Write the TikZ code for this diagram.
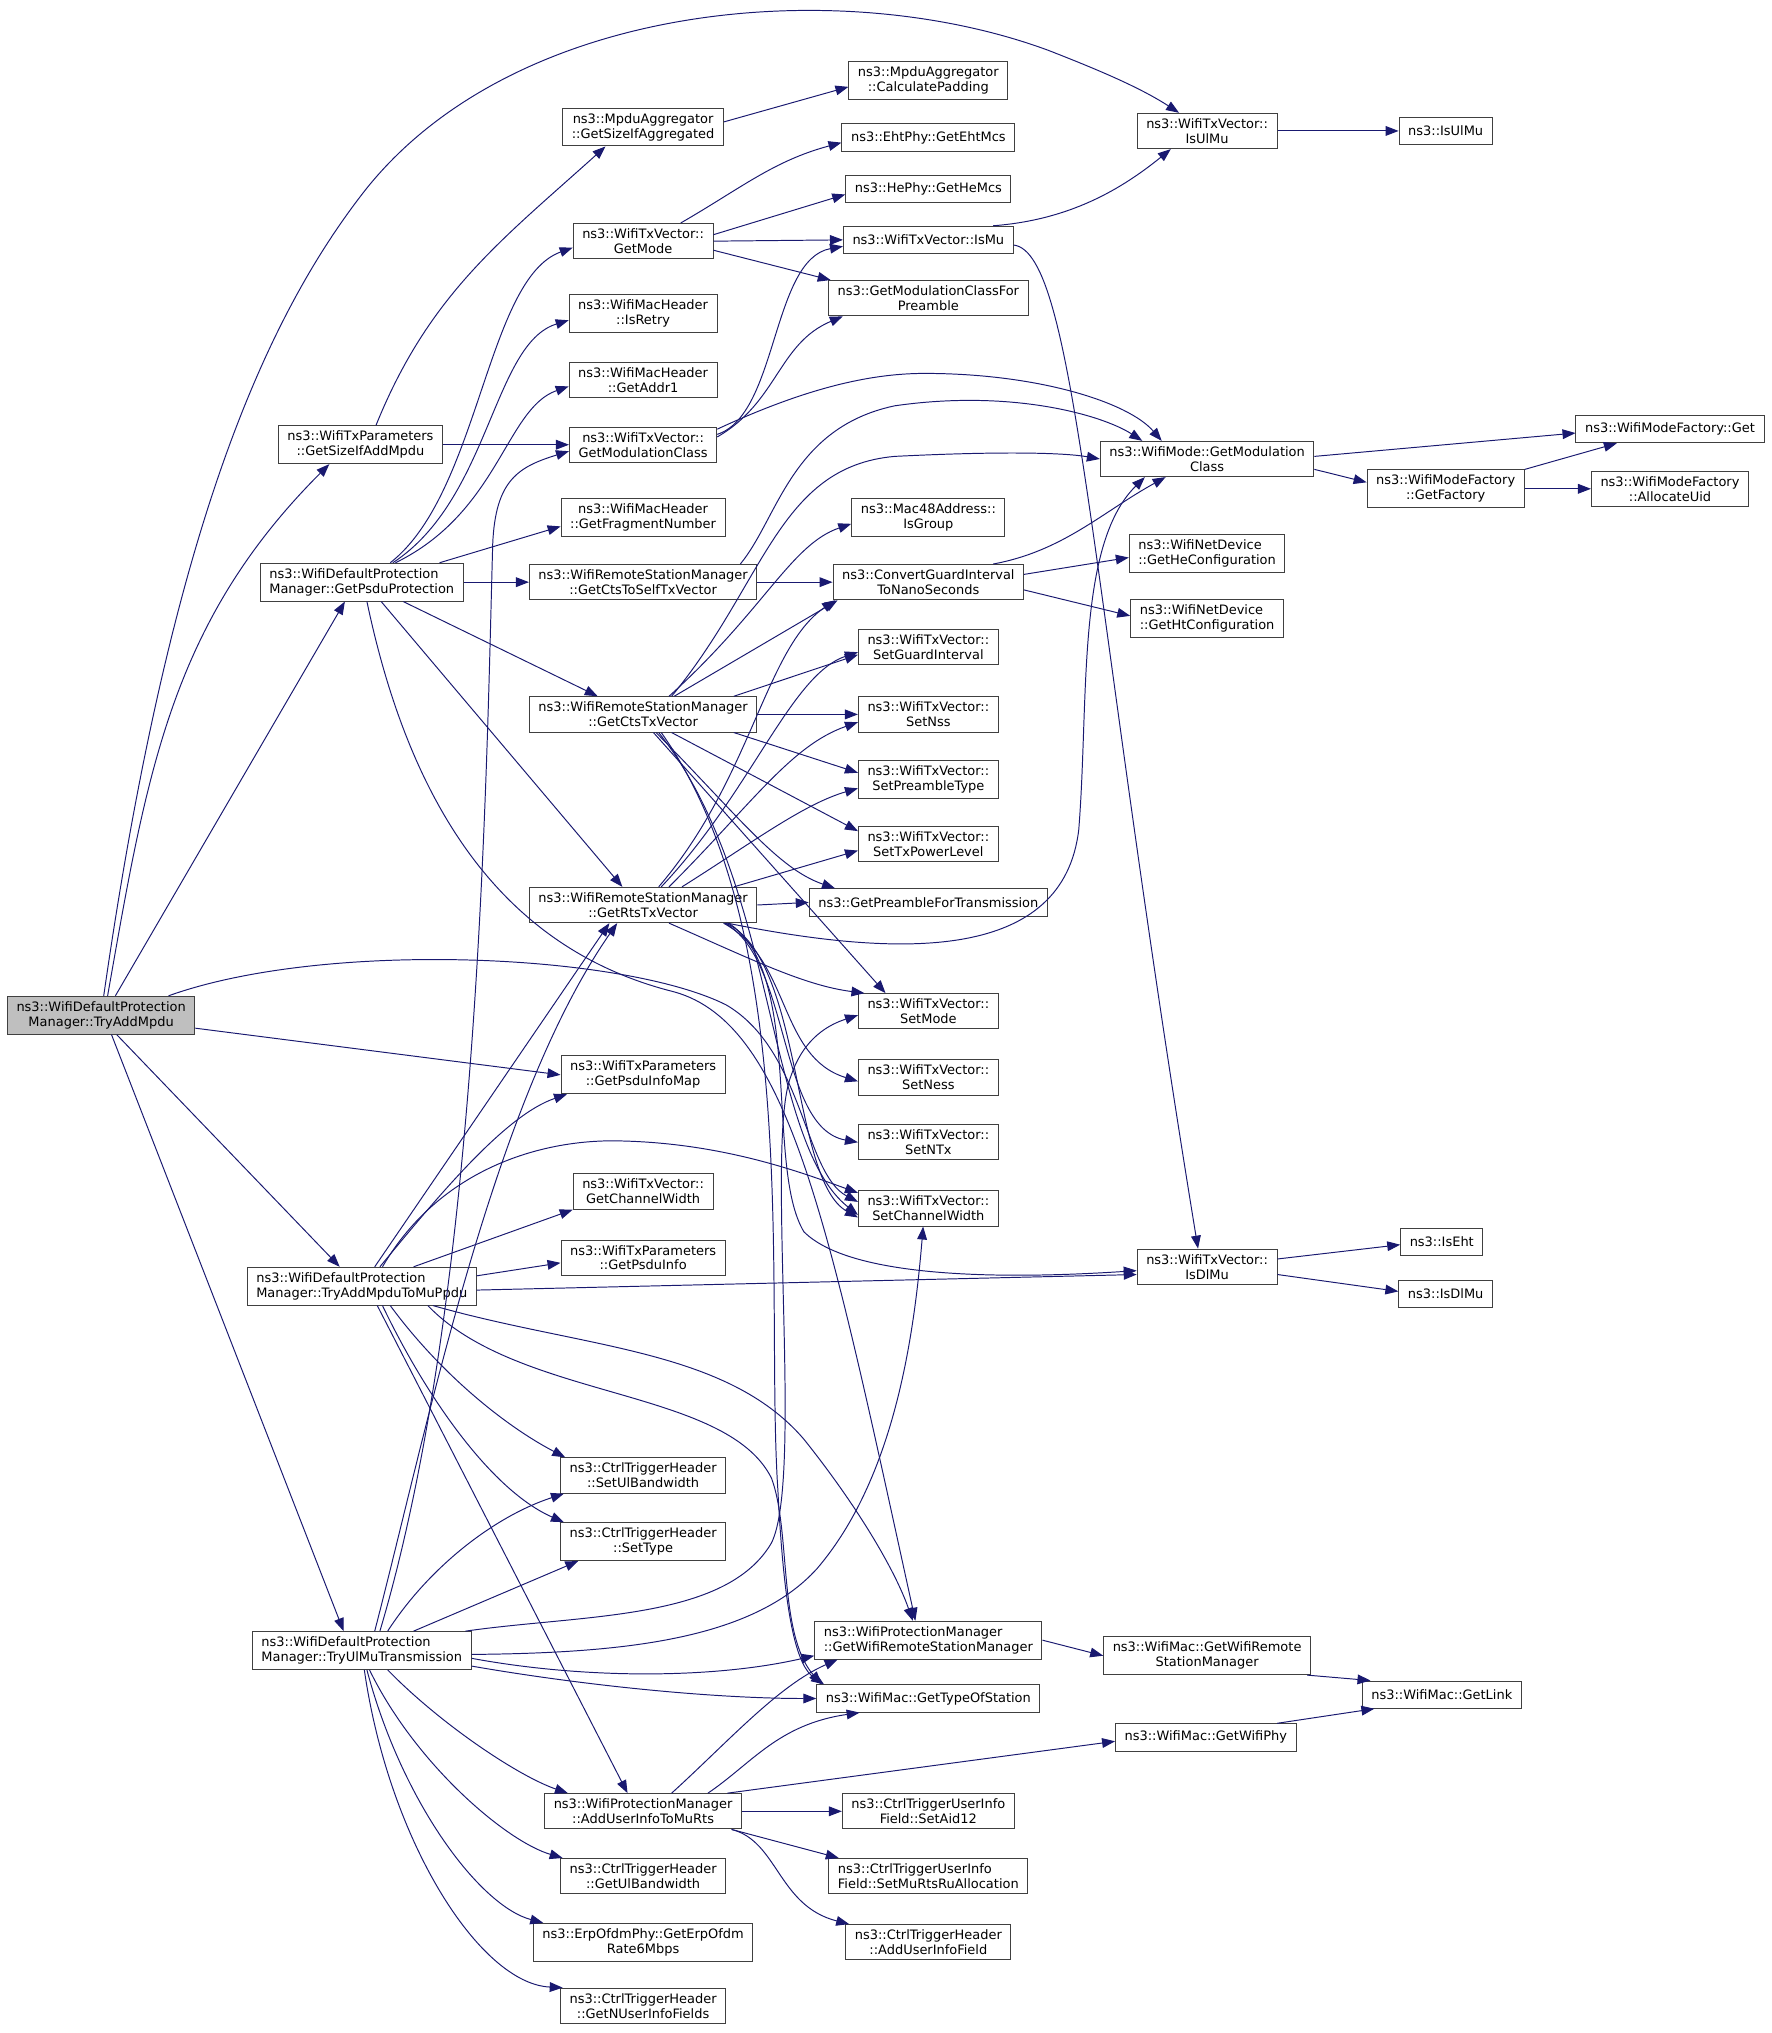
\documentclass[tikz,border=0pt]{standalone}
\usepackage{fontspec}
\setmainfont{DejaVu Sans}
\usepackage{tikz}
\usetikzlibrary{arrows.meta}

\definecolor{edgeblue}{HTML}{191970}
\definecolor{rootgray}{HTML}{BFBFBF}

\tikzset{
  fn/.style={draw=black!75, fill=white, line width=0.75pt, inner xsep=7pt, inner ysep=4pt,
    minimum height=21pt, align=center, font=\fontsize{10}{11.5}\selectfont},
  lft/.style={align=left},
  root/.style={fn, fill=rootgray},
  call/.style={draw=edgeblue, line width=0.75pt, -{Triangle[length=10pt,width=7.5pt]}, fill=none},
}

\begin{document}
\begin{tikzpicture}[x=1pt,y=1pt]
  % page frame
  \fill[white] (0,0) rectangle (1366,-1568);
  \useasboundingbox (0,0) rectangle (1366,-1568);

  % Caller
  \node[root] (root) at (78,-783) {ns3::WifiDefaultProtection\\Manager::TryAddMpdu};

  % First level
  \node[fn] (sizeAdd) at (278,-343) {ns3::WifiTxParameters\\::GetSizeIfAddMpdu};
  \node[fn,lft] (psduProt) at (279,-449) {ns3::WifiDefaultProtection\\Manager::GetPsduProtection};
  \node[fn,lft] (toMuPpdu) at (279,-992) {ns3::WifiDefaultProtection\\Manager::TryAddMpduToMuPpdu};
  \node[fn,lft] (ulMuTx) at (279,-1273) {ns3::WifiDefaultProtection\\Manager::TryUlMuTransmission};

  % Second column
  \node[fn] (sizeAggr) at (496,-98) {ns3::MpduAggregator\\::GetSizeIfAggregated};
  \node[fn] (getMode) at (496,-186) {ns3::WifiTxVector::\\GetMode};
  \node[fn] (isRetry) at (496,-242) {ns3::WifiMacHeader\\::IsRetry};
  \node[fn] (getAddr1) at (496,-293) {ns3::WifiMacHeader\\::GetAddr1};
  \node[fn] (modClassTx) at (496,-343) {ns3::WifiTxVector::\\GetModulationClass};
  \node[fn] (fragNum) at (496,-399) {ns3::WifiMacHeader\\::GetFragmentNumber};
  \node[fn] (ctsSelf) at (496,-449) {ns3::WifiRemoteStationManager\\::GetCtsToSelfTxVector};
  \node[fn] (ctsTx) at (496,-551) {ns3::WifiRemoteStationManager\\::GetCtsTxVector};
  \node[fn] (rtsTx) at (496,-698) {ns3::WifiRemoteStationManager\\::GetRtsTxVector};
  \node[fn] (psduInfoMap) at (496,-829) {ns3::WifiTxParameters\\::GetPsduInfoMap};
  \node[fn] (chanWidth) at (496,-919) {ns3::WifiTxVector::\\GetChannelWidth};
  \node[fn] (psduInfo) at (496,-970) {ns3::WifiTxParameters\\::GetPsduInfo};
  \node[fn] (setUlBw) at (496,-1138) {ns3::CtrlTriggerHeader\\::SetUlBandwidth};
  \node[fn] (setType) at (496,-1189) {ns3::CtrlTriggerHeader\\::SetType};
  \node[fn] (addUserInfo) at (496,-1397) {ns3::WifiProtectionManager\\::AddUserInfoToMuRts};
  \node[fn] (getUlBw) at (496,-1447) {ns3::CtrlTriggerHeader\\::GetUlBandwidth};
  \node[fn] (erp6) at (496,-1498) {ns3::ErpOfdmPhy::GetErpOfdm\\Rate6Mbps};
  \node[fn] (nUserInfo) at (496,-1547) {ns3::CtrlTriggerHeader\\::GetNUserInfoFields};

  % Third column
  \node[fn] (calcPad) at (716,-62) {ns3::MpduAggregator\\::CalculatePadding};
  \node[fn] (ehtMcs) at (716,-106) {ns3::EhtPhy::GetEhtMcs};
  \node[fn] (heMcs) at (716,-146) {ns3::HePhy::GetHeMcs};
  \node[fn] (isMu) at (716,-185) {ns3::WifiTxVector::IsMu};
  \node[fn] (modClassPre) at (716,-230) {ns3::GetModulationClassFor\\Preamble};
  \node[fn] (isGroup) at (716,-399) {ns3::Mac48Address::\\IsGroup};
  \node[fn] (convGI) at (716,-449) {ns3::ConvertGuardInterval\\ToNanoSeconds};
  \node[fn] (setGI) at (716,-499) {ns3::WifiTxVector::\\SetGuardInterval};
  \node[fn] (setNss) at (716,-551) {ns3::WifiTxVector::\\SetNss};
  \node[fn] (setPre) at (716,-601) {ns3::WifiTxVector::\\SetPreambleType};
  \node[fn] (setTxPow) at (716,-651) {ns3::WifiTxVector::\\SetTxPowerLevel};
  \node[fn] (preTx) at (716,-696) {ns3::GetPreambleForTransmission};
  \node[fn] (setMode) at (716,-780) {ns3::WifiTxVector::\\SetMode};
  \node[fn] (setNess) at (716,-831) {ns3::WifiTxVector::\\SetNess};
  \node[fn] (setNTx) at (716,-881) {ns3::WifiTxVector::\\SetNTx};
  \node[fn] (setChW) at (716,-932) {ns3::WifiTxVector::\\SetChannelWidth};
  \node[fn,lft] (wpmRsm) at (716,-1265) {ns3::WifiProtectionManager\\::GetWifiRemoteStationManager};
  \node[fn] (typeSta) at (716,-1310) {ns3::WifiMac::GetTypeOfStation};
  \node[fn] (setAid) at (716,-1397) {ns3::CtrlTriggerUserInfo\\Field::SetAid12};
  \node[fn,lft] (setRu) at (716,-1447) {ns3::CtrlTriggerUserInfo\\Field::SetMuRtsRuAllocation};
  \node[fn] (addUif) at (716,-1498) {ns3::CtrlTriggerHeader\\::AddUserInfoField};

  % Fourth column
  \node[fn] (isUlMuTx) at (931,-101) {ns3::WifiTxVector::\\IsUlMu};
  \node[fn] (wmGMC) at (931,-354) {ns3::WifiMode::GetModulation\\Class};
  \node[fn,lft] (heConf) at (931,-427) {ns3::WifiNetDevice\\::GetHeConfiguration};
  \node[fn,lft] (htConf) at (931,-477) {ns3::WifiNetDevice\\::GetHtConfiguration};
  \node[fn] (isDlMuTx) at (931,-977) {ns3::WifiTxVector::\\IsDlMu};
  \node[fn] (macRsm) at (931,-1277) {ns3::WifiMac::GetWifiRemote\\StationManager};
  \node[fn] (wifiPhy) at (930,-1340) {ns3::WifiMac::GetWifiPhy};

  % Fifth and sixth columns
  \node[fn] (isUlMu) at (1115,-101) {ns3::IsUlMu};
  \node[fn] (getFactory) at (1115,-377) {ns3::WifiModeFactory\\::GetFactory};
  \node[fn] (isEht) at (1112,-958) {ns3::IsEht};
  \node[fn] (isDlMu) at (1115,-998) {ns3::IsDlMu};
  \node[fn] (getLink) at (1112,-1307) {ns3::WifiMac::GetLink};
  \node[fn] (wmfGet) at (1288,-331) {ns3::WifiModeFactory::Get};
  \node[fn] (allocUid) at (1288,-377) {ns3::WifiModeFactory\\::AllocateUid};

  % Calls from TryAddMpdu
  \draw[call] ([xshift=2pt]root.north) .. controls (130,-420) and (200,-250) .. (283,-145)
    .. controls (400,0) and (650,20) .. (809,-39)
    .. controls (850,-55) and (880,-68) .. (isUlMuTx);
  \draw[call] ([xshift=5pt]root.north) to[out=80,in=225] ([xshift=-24pt]sizeAdd.south);
  \draw[call] ([xshift=11pt]root.north) -- ([xshift=-13pt]psduProt.south);
  \draw[call] ([xshift=52pt]root.north) .. controls (250,-725) and (480,-735) .. (560,-775)
    .. controls (620,-810) and (620,-905) .. ([yshift=5pt]setChW.west);
  \draw[call] ([yshift=-10pt]root.east) -- (psduInfoMap.west);
  \draw[call] ([xshift=12pt]root.south) -- ([xshift=-17pt]toMuPpdu.north);
  \draw[call] ([xshift=8pt]root.south) -- ([xshift=-14pt]ulMuTx.north);

  % GetSizeIfAddMpdu
  \draw[call] ([xshift=12pt]sizeAdd.north) to[out=68,in=222] ([xshift=-29pt]sizeAggr.south);
  \draw[call] (sizeAdd.east) -- (modClassTx.west);
  \draw[call] ([yshift=4pt]sizeAggr.east) -- ([yshift=-5pt]calcPad.west);

  % GetPsduProtection
  \draw[call] ([xshift=22pt]psduProt.north) .. controls (370,-380) and (375,-215) .. ([yshift=-5pt]getMode.west);
  \draw[call] ([xshift=24pt]psduProt.north) .. controls (378,-385) and (380,-265) .. ([yshift=-5pt]isRetry.west);
  \draw[call] ([xshift=26pt]psduProt.north) .. controls (385,-395) and (390,-315) .. ([yshift=-5pt]getAddr1.west);
  \draw[call] ([xshift=60pt]psduProt.north) -- ([yshift=-7pt]fragNum.west);
  \draw[call] (psduProt.east) -- (ctsSelf.west);
  \draw[call] ([xshift=32pt]psduProt.south) -- ([xshift=-35pt]ctsTx.north);
  \draw[call] ([xshift=15pt]psduProt.south) -- ([xshift=-16pt]rtsTx.north);
  \draw[call] ([xshift=4pt]psduProt.south) .. controls (320,-640) and (400,-735) .. (520,-765)
    .. controls (610,-790) and (640,-950) .. ([xshift=-10pt]wpmRsm.north);

  % GetMode and GetModulationClass
  \draw[call] ([xshift=29pt]getMode.north) to[out=30,in=195] ([yshift=-4pt]ehtMcs.west);
  \draw[call] ([yshift=5pt]getMode.east) -- ([yshift=-4pt]heMcs.west);
  \draw[call] (getMode.east) -- (isMu.west);
  \draw[call] ([yshift=-7pt]getMode.east) -- ([xshift=2pt]modClassPre.north west);
  \draw[call] ([yshift=8pt]modClassTx.east) .. controls (600,-320) and (595,-200) .. ([yshift=-5pt]isMu.west);
  \draw[call] ([yshift=6pt]modClassTx.east) .. controls (600,-310) and (600,-265) .. ([xshift=-66pt]modClassPre.south);
  \draw[call] ([yshift=12pt]modClassTx.east) .. controls (620,-300) and (670,-288) .. (713,-288)
    .. controls (800,-288) and (870,-310) .. ([xshift=-35pt]wmGMC.north);
  \draw[call] ([xshift=50pt]isMu.north) .. controls (820,-170) and (860,-150) .. ([xshift=-28pt]isUlMuTx.south);
  \draw[call] ([yshift=-4pt]isMu.east) .. controls (830,-195) and (840,-450) .. ([xshift=-7pt]isDlMuTx.north);
  \draw[call] (isUlMuTx.east) -- (isUlMu.west);
  \draw[call] ([yshift=6pt]isDlMuTx.east) -- ([yshift=-2pt]isEht.west);
  \draw[call] ([yshift=-6pt]isDlMuTx.east) -- ([yshift=2pt]isDlMu.west);

  % WifiMode and factory
  \draw[call] ([yshift=2pt]wmGMC.east) -- ([yshift=-3pt]wmfGet.west);
  \draw[call] ([yshift=-8pt]wmGMC.east) -- ([yshift=5pt]getFactory.west);
  \draw[call] (getFactory.north east) -- ([xshift=-41pt]wmfGet.south);
  \draw[call] (getFactory.east) -- (allocUid.west);

  % CTS-to-self and guard interval
  \draw[call] (ctsSelf.east) -- (convGI.west);
  \draw[call] ([xshift=75pt]ctsSelf.north) .. controls (600,-400) and (610,-330) .. (690,-313)
    .. controls (780,-300) and (850,-320) .. ([xshift=-50pt]wmGMC.north);
  \draw[call] ([xshift=50pt]convGI.north) .. controls (820,-425) and (850,-395) .. ([xshift=-32pt]wmGMC.south);
  \draw[call] ([yshift=6pt]convGI.east) -- ([yshift=-3pt]heConf.west);
  \draw[call] ([yshift=-6pt]convGI.east) -- ([yshift=2pt]htConf.west);

  % GetCtsTxVector
  \draw[call] ([xshift=22pt]ctsTx.north) .. controls (590,-450) and (600,-360) .. (690,-352)
    .. controls (770,-348) and (820,-349) .. (wmGMC.west);
  \draw[call] ([xshift=20pt]ctsTx.north) .. controls (590,-470) and (610,-420) .. ([yshift=-5pt]isGroup.west);
  \draw[call] ([xshift=24pt]ctsTx.north) -- ([xshift=-70pt]convGI.south);
  \draw[call] ([xshift=70pt]ctsTx.north) -- ([yshift=-6pt]setGI.west);
  \draw[call] (ctsTx.east) -- (setNss.west);
  \draw[call] ([xshift=70pt]ctsTx.south) -- ([yshift=5pt]setPre.west);
  \draw[call] ([xshift=22pt]ctsTx.south) -- ([yshift=10pt]setTxPow.west);
  \draw[call] ([xshift=10pt]ctsTx.south) .. controls (570,-630) and (600,-670) .. ([xshift=-72pt]preTx.north);
  \draw[call] ([xshift=8pt]ctsTx.south) -- ([xshift=-33pt]setMode.north);
  \draw[call] ([xshift=12pt]ctsTx.south) .. controls (600,-680) and (590,-880) .. ([yshift=-5pt]setChW.west);
  \draw[call] ([xshift=14pt]ctsTx.south) .. controls (620,-720) and (590,-1000) .. (600,-1150)
    .. controls (605,-1250) and (615,-1285) .. ([xshift=6pt]typeSta.north west);

  % GetRtsTxVector
  \draw[call] ([xshift=12pt]rtsTx.north) .. controls (580,-600) and (590,-500) .. ([xshift=-72pt]convGI.south);
  \draw[call] ([xshift=14pt]rtsTx.north) .. controls (580,-610) and (610,-520) .. ([yshift=-4pt]setGI.west);
  \draw[call] ([xshift=20pt]rtsTx.north) .. controls (580,-620) and (610,-575) .. ([yshift=-6pt]setNss.west);
  \draw[call] ([xshift=30pt]rtsTx.north) .. controls (580,-650) and (620,-620) .. ([yshift=-7pt]setPre.west);
  \draw[call] ([xshift=70pt]rtsTx.north) -- ([yshift=-5pt]setTxPow.west);
  \draw[call] (rtsTx.east) -- (preTx.west);
  \draw[call] ([xshift=65pt]rtsTx.south) .. controls (700,-740) and (820,-740) .. (832,-640)
    .. controls (840,-540) and (830,-420) .. ([xshift=-48pt]wmGMC.south);
  \draw[call] ([xshift=20pt]rtsTx.south) .. controls (580,-740) and (620,-760) .. ([xshift=5pt]setMode.north west);
  \draw[call] ([xshift=62pt]rtsTx.south) .. controls (610,-740) and (600,-815) .. ([yshift=-3pt]setNess.west);
  \draw[call] ([xshift=63pt]rtsTx.south) .. controls (610,-740) and (600,-870) .. (setNTx.west);
  \draw[call] ([xshift=64pt]rtsTx.south) .. controls (620,-740) and (610,-910) .. ([yshift=-7pt]setChW.west);
  \draw[call] ([xshift=66pt]rtsTx.south) .. controls (620,-750) and (590,-900) .. (620,-950)
    .. controls (660,-990) and (800,-985) .. ([yshift=-3pt]isDlMuTx.west);

  % TryAddMpduToMuPpdu
  \draw[call] ([xshift=10pt]toMuPpdu.north) -- ([xshift=-26pt]rtsTx.south);
  \draw[call] ([xshift=14pt]toMuPpdu.north) .. controls (340,-920) and (390,-860) .. ([xshift=5pt]psduInfoMap.south west);
  \draw[call] ([xshift=16pt]toMuPpdu.north) .. controls (340,-900) and (420,-878) .. (480,-880)
    .. controls (560,-882) and (620,-905) .. ([yshift=12pt]setChW.west);
  \draw[call] ([xshift=40pt]toMuPpdu.north) -- (chanWidth.south west);
  \draw[call] ([yshift=8pt]toMuPpdu.east) -- ([yshift=-4pt]psduInfo.west);
  \draw[call] ([yshift=-3pt]toMuPpdu.east) -- ([yshift=-6pt]isDlMuTx.west);
  \draw[call] ([xshift=22pt]toMuPpdu.south) .. controls (340,-1060) and (390,-1100) .. ([xshift=4pt]setUlBw.north west);
  \draw[call] ([xshift=16pt]toMuPpdu.south) .. controls (330,-1080) and (380,-1150) .. ([xshift=3pt]setType.north west);
  \draw[call] ([xshift=12pt]toMuPpdu.south) -- ([xshift=-12pt]addUserInfo.north);
  \draw[call] ([xshift=55pt]toMuPpdu.south) .. controls (450,-1040) and (560,-1040) .. (620,-1110)
    .. controls (660,-1160) and (690,-1210) .. ([xshift=-12pt]wpmRsm.north);
  \draw[call] ([xshift=51pt]toMuPpdu.south) .. controls (400,-1080) and (560,-1070) .. (595,-1140)
    .. controls (610,-1180) and (600,-1260) .. ([xshift=4pt]typeSta.north west);

  % TryUlMuTransmission
  \draw[call] ([xshift=10pt]ulMuTx.north) .. controls (330,-1100) and (380,-850) .. ([xshift=-20pt]rtsTx.south);
  \draw[call] ([xshift=14pt]ulMuTx.north) .. controls (370,-1000) and (375,-600) .. (380,-420)
    .. controls (382,-370) and (400,-360) .. ([yshift=-5pt]modClassTx.west);
  \draw[call] ([xshift=20pt]ulMuTx.north) .. controls (330,-1210) and (380,-1170) .. ([xshift=3pt]setUlBw.south west);
  \draw[call] ([xshift=40pt]ulMuTx.north) -- ([xshift=-50pt]setType.south);
  \draw[call] ([xshift=80pt]ulMuTx.north) .. controls (450,-1245) and (560,-1250) .. (595,-1190)
    .. controls (620,-1140) and (590,-880) .. (610,-830)
    .. controls (620,-800) and (640,-790) .. ([yshift=-3pt]setMode.west);
  \draw[call] ([yshift=-3pt]ulMuTx.east) .. controls (480,-1275) and (580,-1265) .. (630,-1210)
    .. controls (690,-1140) and (705,-1030) .. ([xshift=-4pt]setChW.south);
  \draw[call] ([yshift=-6pt]ulMuTx.east) .. controls (450,-1295) and (550,-1295) .. ([yshift=-12pt]wpmRsm.west);
  \draw[call] ([yshift=-12pt]ulMuTx.east) .. controls (450,-1300) and (550,-1310) .. (typeSta.west);
  \draw[call] ([xshift=20pt]ulMuTx.south) .. controls (340,-1330) and (400,-1370) .. ([xshift=-58pt]addUserInfo.north);
  \draw[call] ([xshift=6pt]ulMuTx.south) .. controls (320,-1360) and (390,-1420) .. ([xshift=2pt]getUlBw.north west);
  \draw[call] ([xshift=4pt]ulMuTx.south) .. controls (310,-1390) and (370,-1470) .. ([xshift=8pt]erp6.north west);
  \draw[call] ([xshift=2pt]ulMuTx.south) .. controls (300,-1420) and (370,-1530) .. ([xshift=2pt]nUserInfo.north west);

  % AddUserInfoToMuRts
  \draw[call] ([xshift=22pt]addUserInfo.north) .. controls (560,-1345) and (600,-1300) .. ([xshift=-70pt]wpmRsm.south);
  \draw[call] ([xshift=50pt]addUserInfo.north) .. controls (580,-1360) and (600,-1330) .. ([xshift=-53pt]typeSta.south);
  \draw[call] ([xshift=65pt]addUserInfo.north) -- ([yshift=-3pt]wifiPhy.west);
  \draw[call] (addUserInfo.east) -- (setAid.west);
  \draw[call] ([xshift=-8pt]addUserInfo.south east) -- ([xshift=8pt]setRu.north west);
  \draw[call] ([xshift=-8pt]addUserInfo.south east) .. controls (600,-1420) and (600,-1470) .. ([xshift=3pt]addUif.north west);

  % WifiMac
  \draw[call] (wpmRsm.east) -- (macRsm.west);
  \draw[call] ([xshift=-3pt]macRsm.south east) -- ([xshift=-55pt]getLink.north);
  \draw[call] ([xshift=55pt]wifiPhy.north) -- ([xshift=-52pt]getLink.south);
\end{tikzpicture}
\end{document}
